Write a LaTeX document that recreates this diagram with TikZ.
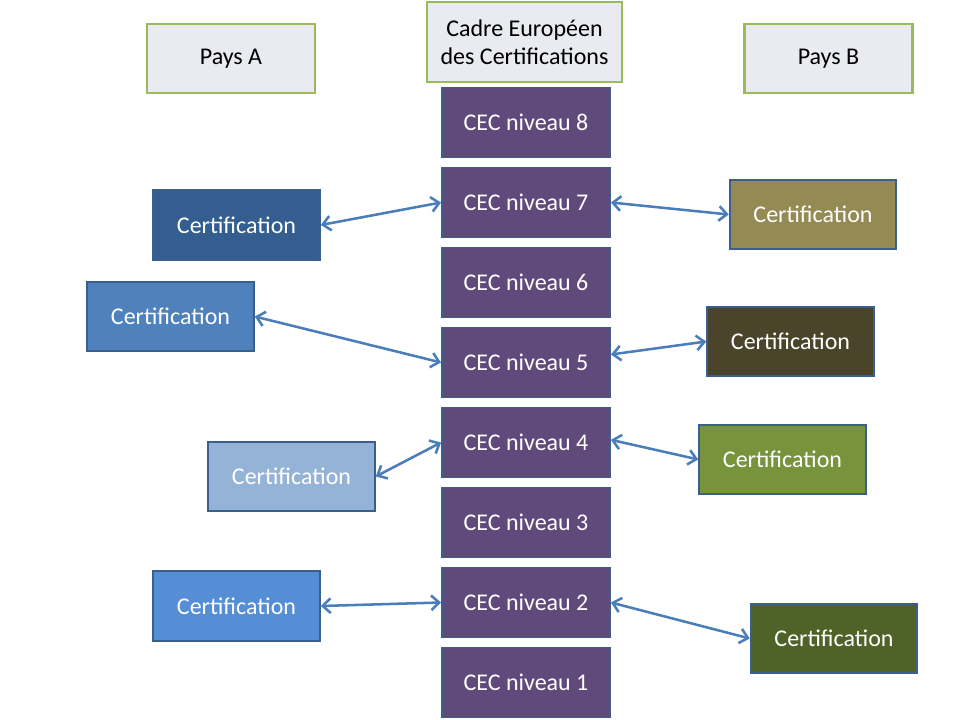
\documentclass[tikz,border=0pt]{standalone}
\usepackage{fontspec}
\setmainfont{Carlito}
\usepackage{xcolor}
\usetikzlibrary{arrows.meta}

\definecolor{headfill}{HTML}{E9EBF1}
\definecolor{headline}{HTML}{9BBB59}
\definecolor{boxline}{HTML}{3A5F8C}
\definecolor{cecfill}{HTML}{604A7B}
\definecolor{arrowblue}{HTML}{4A7EBB}
\definecolor{certAsept}{HTML}{335E8F}
\definecolor{certAcinq}{HTML}{4F81BD}
\definecolor{certAquatre}{HTML}{95B3D7}
\definecolor{certAdeux}{HTML}{558ED5}
\definecolor{certBsept}{HTML}{948A54}
\definecolor{certBcinq}{HTML}{4A452A}
\definecolor{certBquatre}{HTML}{77933C}
\definecolor{certBdeux}{HTML}{4F6228}

\begin{document}
\begin{tikzpicture}[x=0.75pt,y=-0.75pt,
  head/.style={draw=headline,line width=1.6pt,fill=headfill,text=black,
    minimum width=126pt,minimum height=52pt,inner sep=0pt,font=\fontsize{18}{21}\selectfont},
  cec/.style={draw=boxline,line width=1.4pt,fill=cecfill,text=white,
    minimum width=126pt,minimum height=52.5pt,inner sep=0pt,font=\fontsize{18}{21}\selectfont},
  cert/.style={draw=boxline,line width=1.4pt,text=white,
    minimum width=125pt,minimum height=52pt,inner sep=0pt,font=\fontsize{18}{21}\selectfont},
  link/.style={draw=arrowblue,line width=1.9pt,
    {Straight Barb[length=6pt,width=11pt,line width=1.9pt]}-{Straight Barb[length=6pt,width=11pt,line width=1.9pt]}}]
\useasboundingbox (0,0) rectangle (960,720);

\node[head] (paysA) at (231,58.5) {Pays A};
\node[head,minimum width=146pt,minimum height=60pt,align=center] (cadre) at (524.5,42)
  {Cadre Européen\\des Certifications};
\node[head] (paysB) at (828.5,58.5) {Pays B};

\node[cec] (n8) at (526,122.5) {CEC niveau 8};
\node[cec] (n7) at (526,202.5) {CEC niveau 7};
\node[cec] (n6) at (526,282.5) {CEC niveau 6};
\node[cec] (n5) at (526,362.5) {CEC niveau 5};
\node[cec] (n4) at (526,442.5) {CEC niveau 4};
\node[cec] (n3) at (526,522.5) {CEC niveau 3};
\node[cec] (n2) at (526,602.5) {CEC niveau 2};
\node[cec] (n1) at (526,682.5) {CEC niveau 1};

% pays A
\node[cert,fill=certAsept] (c7l) at (236.5,225) {Certification};
\node[cert,fill=certAcinq] (c5l) at (170.5,316.5) {Certification};
\node[cert,fill=certAquatre] (c4l) at (291.5,476.5) {Certification};
\node[cert,fill=certAdeux] (c2l) at (236.5,606) {Certification};

% pays B
\node[cert,fill=certBsept] (c7r) at (813,214.5) {Certification};
\node[cert,fill=certBcinq] (c5r) at (790.5,341.5) {Certification};
\node[cert,fill=certBquatre] (c4r) at (782.5,459.5) {Certification};
\node[cert,fill=certBdeux] (c2r) at (834,638.5) {Certification};

\draw[link] (c7l.east) -- (n7.west);
\draw[link] (c5l.east) -- (n5.west);
\draw[link] (c4l.east) -- (n4.west);
\draw[link] (c2l.east) -- (n2.west);

\draw[link] (n7.east) -- (c7r.west);
\draw[link] ([yshift=6pt]n5.east) -- (c5r.west);
\draw[link] ([yshift=2pt]n4.east) -- (c4r.west);
\draw[link] (n2.east) -- (c2r.west);
\end{tikzpicture}
\end{document}
